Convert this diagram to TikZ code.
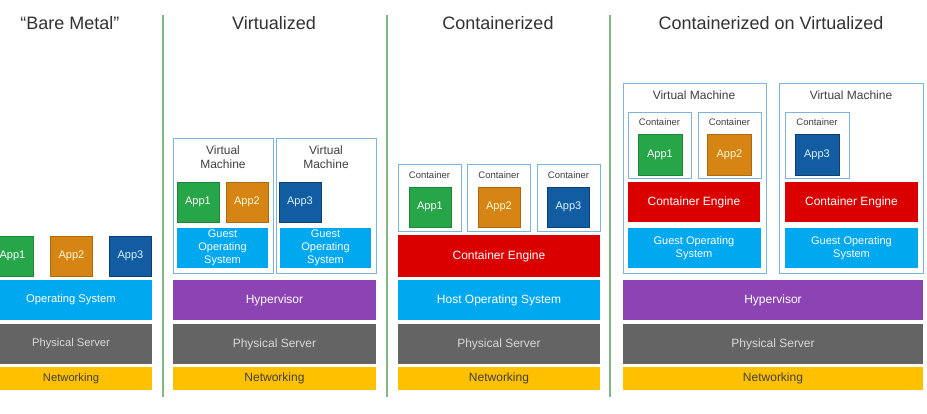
\documentclass[tikz,border=0pt]{standalone}
\usepackage{fontspec}
\setmainfont{Liberation Sans}
\usepackage{tikz}
\usetikzlibrary{shapes,arrows}

\definecolor{appgreen}{RGB}{38,166,72}
\definecolor{apporange}{RGB}{214,132,20}
\definecolor{appblue}{RGB}{18,92,162}
\definecolor{osblue}{RGB}{0,168,240}
\definecolor{hyppurple}{RGB}{140,68,180}
\definecolor{srvgray}{RGB}{100,100,100}
\definecolor{netyellow}{RGB}{255,192,0}
\definecolor{engred}{RGB}{218,0,0}
\definecolor{boxline}{RGB}{125,180,222}
\definecolor{divgreen}{RGB}{130,182,130}
\definecolor{titlegray}{RGB}{50,50,50}

\tikzstyle{layer} = [rectangle, inner sep=0pt, minimum height=40pt, align=center, font=\fontsize{12}{14}\selectfont]
\tikzstyle{net} = [layer, fill=netyellow, minimum height=23pt, text=black!75]
\tikzstyle{server} = [layer, fill=srvgray, text=white!85!black]
\tikzstyle{os} = [layer, fill=osblue, text=white]
\tikzstyle{guest} = [layer, fill=osblue, text=white, font=\fontsize{11}{13}\selectfont]
\tikzstyle{hyper} = [layer, fill=hyppurple, text=white]
\tikzstyle{engine} = [layer, fill=engred, text=white]
\tikzstyle{small} = [font=\fontsize{11.2}{13}\selectfont]
\tikzstyle{app} = [rectangle, inner sep=0pt, minimum width=42pt, minimum height=40pt, font=\fontsize{11}{13}\selectfont]
\tikzstyle{appA} = [app, fill=appgreen, draw=appgreen!80!black, text=white]
\tikzstyle{appB} = [app, fill=apporange, draw=apporange!80!black, text=white!85!yellow]
\tikzstyle{appC} = [app, fill=appblue, draw=appblue!70!black, text=white!85!cyan]
\tikzstyle{frame} = [rectangle, draw=boxline, line width=1pt, inner sep=0pt]
\tikzstyle{vmlabel} = [align=center, text=black!75, font=\fontsize{12}{14}\selectfont]
\tikzstyle{ctlabel} = [text=black!75, font=\fontsize{9.5}{11}\selectfont]
\tikzstyle{title} = [text=titlegray, font=\fontsize{18}{20}\selectfont]

\begin{document}
\begin{tikzpicture}[x=1pt, y=1pt]
		\clip (0,0) rectangle (927,413);
		\fill[white] (0,0) rectangle (927,413);
		
		% titles
		\node [title] (t1) at (70,390) {“Bare Metal”};
		\node [title] (t2) at (274,390) {Virtualized};
		\node [title] (t3) at (498,390) {Containerized};
		\node [title] (t4) at (771,390) {Containerized on Virtualized};
		
		% dividers
		\coordinate (d1a) at (163,398);
		\coordinate (d1b) at (163,16);
		\coordinate (d2a) at (387,398);
		\coordinate (d2b) at (387,16);
		\coordinate (d3a) at (610,398);
		\coordinate (d3b) at (610,16);
		\draw [divgreen, line width=1.2pt] (d1a) -- (d1b);
		\draw [divgreen, line width=1.2pt] (d2a) -- (d2b);
		\draw [divgreen, line width=1.2pt] (d3a) -- (d3b);
		
		% bare metal
		\node [appA] (a11) at (12.5,157) {App1};
		\node [appB, right of=a11, node distance=59pt] (a12) {App2};
		\node [appC, right of=a12, node distance=59pt] (a13) {App3};
		\node [os, small, minimum width=162pt] (os1) at (71,113) {Operating System};
		\node [server, small, minimum width=162pt, below of=os1, node distance=44pt] (srv1) {Physical Server};
		\node [net, small, minimum width=162pt, below of=srv1, node distance=34.5pt] (net1) {Networking};
		
		% virtualized
		\node [frame, minimum width=100pt, minimum height=134pt] (vm21) at (223,207) {};
		\node [frame, minimum width=100pt, minimum height=134pt, right of=vm21, node distance=103pt] (vm22) {};
		\node [vmlabel] (vm21l) at (223,256) {Virtual\\Machine};
		\node [vmlabel] (vm22l) at (326,256) {Virtual\\Machine};
		\node [appA] (a21) at (198,211) {App1};
		\node [appB, right of=a21, node distance=49pt] (a22) {App2};
		\node [appC, right of=a22, node distance=53pt] (a23) {App3};
		\node [guest, minimum width=91pt] (gos21) at (222.5,165) {Guest\\Operating\\System};
		\node [guest, minimum width=91pt, right of=gos21, node distance=103pt] (gos22) {Guest\\Operating\\System};
		\node [hyper, minimum width=203pt] (hyp2) at (274.5,113) {Hypervisor};
		\node [server, minimum width=203pt, below of=hyp2, node distance=44pt] (srv2) {Physical Server};
		\node [net, minimum width=203pt, below of=srv2, node distance=34.5pt] (net2) {Networking};
		
		% containerized
		\node [frame, minimum width=63pt, minimum height=67pt] (c31) at (429.5,214.5) {};
		\node [frame, minimum width=63pt, minimum height=67pt, right of=c31, node distance=69.5pt] (c32) {};
		\node [frame, minimum width=63pt, minimum height=67pt, right of=c32, node distance=69.5pt] (c33) {};
		\node [ctlabel] (c31l) at (429.5,238) {Container};
		\node [ctlabel] (c32l) at (499,238) {Container};
		\node [ctlabel] (c33l) at (568.5,238) {Container};
		\node [appA] (a31) at (430,206) {App1};
		\node [appB, right of=a31, node distance=69pt] (a32) {App2};
		\node [appC, right of=a32, node distance=69.5pt] (a33) {App3};
		\node [engine, minimum width=202pt, minimum height=41pt] (eng3) at (499,157) {Container Engine};
		\node [os, minimum width=202pt, below of=eng3, node distance=44pt] (os3) {Host Operating System};
		\node [server, minimum width=202pt, below of=os3, node distance=44pt] (srv3) {Physical Server};
		\node [net, minimum width=202pt, below of=srv3, node distance=34.5pt] (net3) {Networking};
		
		% containerized on virtualized
		\node [frame, minimum width=143pt, minimum height=189pt] (vm41) at (694.5,234.5) {};
		\node [frame, minimum width=144pt, minimum height=189pt] (vm42) at (851,234.5) {};
		\node [vmlabel] (vm41l) at (694,318) {Virtual Machine};
		\node [vmlabel] (vm42l) at (851,318) {Virtual Machine};
		\node [frame, minimum width=63pt, minimum height=66pt] (c41) at (659.5,267) {};
		\node [frame, minimum width=63pt, minimum height=66pt, right of=c41, node distance=70pt] (c42) {};
		\node [frame, minimum width=64pt, minimum height=66pt] (c43) at (817,267) {};
		\node [ctlabel] (c41l) at (659.5,291) {Container};
		\node [ctlabel] (c42l) at (729.5,291) {Container};
		\node [ctlabel] (c43l) at (817,291) {Container};
		\node [appA, minimum width=44pt, minimum height=41pt] (a41) at (660,258.5) {App1};
		\node [appB, minimum width=44pt, minimum height=41pt, right of=a41, node distance=69.5pt] (a42) {App2};
		\node [appC, minimum width=44pt, minimum height=41pt] (a43) at (817,258.5) {App3};
		\node [engine, minimum width=132pt] (eng41) at (694,211) {Container Engine};
		\node [engine, minimum width=133pt] (eng42) at (851.5,211) {Container Engine};
		\node [guest, minimum width=133pt, below of=eng41, node distance=46pt] (gos41) {Guest Operating\\System};
		\node [guest, minimum width=133pt, below of=eng42, node distance=46pt] (gos42) {Guest Operating\\System};
		\node [hyper, minimum width=300pt] (hyp4) at (773,113) {Hypervisor};
		\node [server, minimum width=300pt, below of=hyp4, node distance=44pt] (srv4) {Physical Server};
		\node [net, minimum width=300pt, below of=srv4, node distance=34.5pt] (net4) {Networking};
		
		\end{tikzpicture}
\end{document}
